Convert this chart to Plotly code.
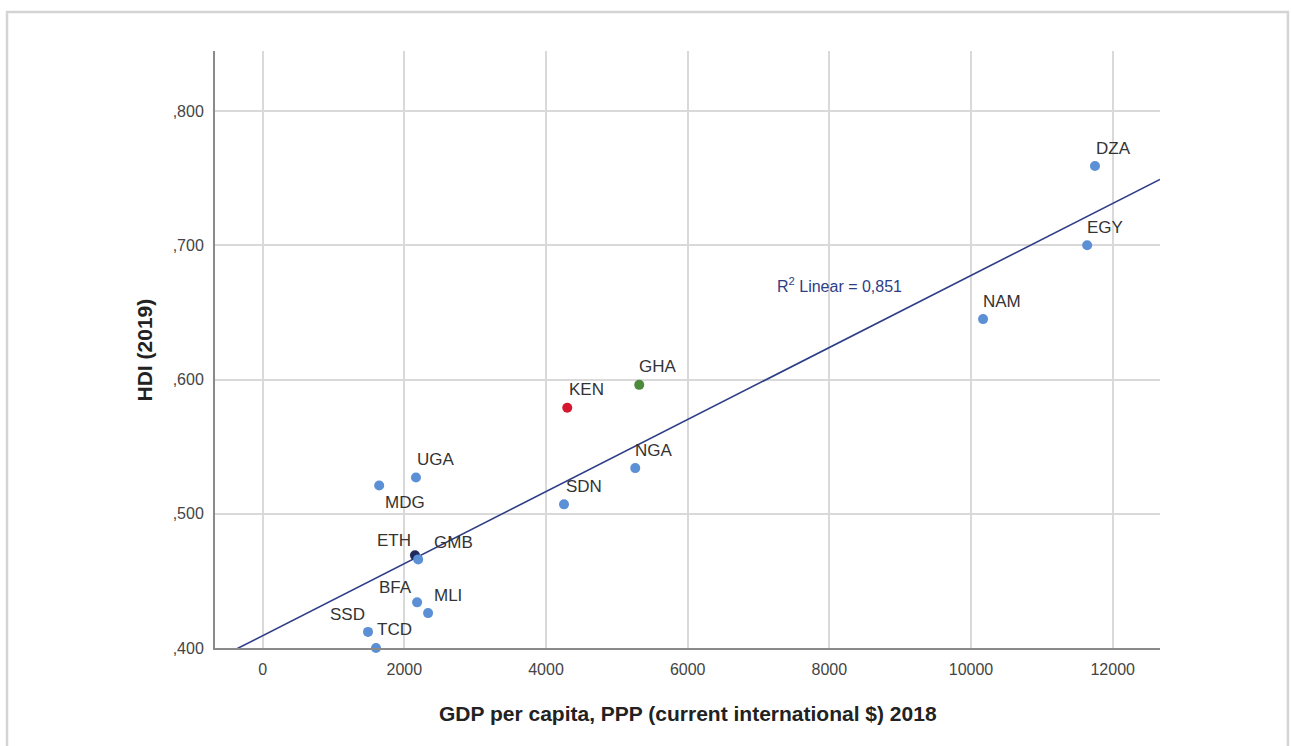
import plotly.graph_objects as go
import numpy as np

codes = ["DZA", "EGY", "NAM", "GHA", "KEN", "NGA", "SDN", "UGA", "MDG", "ETH", "GMB", "BFA", "MLI", "SSD", "TCD"]
gdp = [11750, 11640, 10170, 5316, 4300, 5260, 4254, 2164, 1645, 2150, 2195, 2180, 2335, 1487, 1600]
hdi = [0.759, 0.700, 0.645, 0.596, 0.579, 0.534, 0.507, 0.527, 0.521, 0.469, 0.466, 0.434, 0.426, 0.412, 0.400]
colors = ["#5b8fd6", "#5b8fd6", "#5b8fd6", "#4e8a3c", "#d6172f", "#5b8fd6", "#5b8fd6",
          "#5b8fd6", "#5b8fd6", "#1f2b5e", "#5b8fd6", "#5b8fd6", "#5b8fd6", "#5b8fd6", "#5b8fd6"]
# label offsets in pixels (x, y up)
label_dx = [19, 18, 19, 19, 19, 19, 20, 20, 26, -21, 35, -22, 20, -21, 18]
label_dy = [18, 18, 18, 18, 18, 18, 18, 18, -17, 15, 17, 15, 18, 17, 19]

fit_intercept = 0.4092
fit_slope = 2.683e-5
r2_text = "R<sup>2</sup> Linear = 0,851"
r2_pos = (8150, 0.6704)

x_range = [-673, 12668]
y_range = [0.400, 0.8447]
x_ticks = [0, 2000, 4000, 6000, 8000, 10000, 12000]
y_ticks = [0.4, 0.5, 0.6, 0.7, 0.8]
y_ticktext = [",400", ",500", ",600", ",700", ",800"]

FONT = "Liberation Sans, Arial"

fig = go.Figure()

fx = np.array(x_range, dtype=float)
fig.add_trace(go.Scatter(x=fx, y=fit_intercept + fit_slope * fx, mode="lines",
                         line=dict(color="#2e3d86", width=1.6), hoverinfo="skip", showlegend=False))

fig.add_trace(go.Scatter(x=gdp, y=hdi, mode="markers",
                         marker=dict(color=colors, size=10, line=dict(width=0)),
                         text=codes, showlegend=False, cliponaxis=False))

for c, xv, yv, dx, dy in zip(codes, gdp, hdi, label_dx, label_dy):
    fig.add_annotation(x=xv, y=yv, text=c, showarrow=False, xshift=dx, yshift=dy,
                       xanchor="center", yanchor="middle",
                       font=dict(family=FONT, size=17, color="#333333"))

fig.add_annotation(x=r2_pos[0], y=r2_pos[1], text=r2_text, showarrow=False,
                   xanchor="center", yanchor="middle",
                   font=dict(family=FONT, size=16, color="#2e3d86"))

fig.add_annotation(xref="paper", yref="paper", x=0.5, y=-0.109, xanchor="center", yanchor="middle",
                   text="<b>GDP per capita, PPP (current international $) 2018</b>",
                   showarrow=False, font=dict(family=FONT, size=21, color="#222222"))
fig.add_annotation(xref="paper", yref="paper", x=-0.0741, y=0.5, xanchor="center", yanchor="middle",
                   text="<b>HDI (2019)</b>", textangle=-90,
                   showarrow=False, font=dict(family=FONT, size=21, color="#222222"))

fig.add_shape(type="rect", xref="paper", yref="paper", x0=-0.2201, x1=1.1354, y0=-0.3, y1=1.0653,
              line=dict(color="#d4d4d4", width=2.5), layer="below")

fig.update_layout(
    width=1291, height=746,
    margin=dict(l=215, r=131, t=51, b=98),
    paper_bgcolor="white", plot_bgcolor="white",
    font=dict(family=FONT, size=16, color="#444444"),
    xaxis=dict(range=x_range, tickvals=x_ticks, ticktext=[str(v) for v in x_ticks],
               showgrid=True, gridcolor="#d9d9d9", gridwidth=1.5, zeroline=False,
               showline=True, linecolor="#8a8a8a", linewidth=2, ticks="", ticklen=0,
               ticklabelstandoff=6,
               tickfont=dict(family=FONT, size=16, color="#444444")),
    yaxis=dict(range=y_range, tickvals=y_ticks, ticktext=y_ticktext,
               showgrid=True, gridcolor="#d9d9d9", gridwidth=1.5, zeroline=False,
               showline=True, linecolor="#8a8a8a", linewidth=2, ticks="", ticklen=0,
               ticklabelstandoff=6,
               tickfont=dict(family=FONT, size=16, color="#444444")),
)

fig.write_html("out.html")
